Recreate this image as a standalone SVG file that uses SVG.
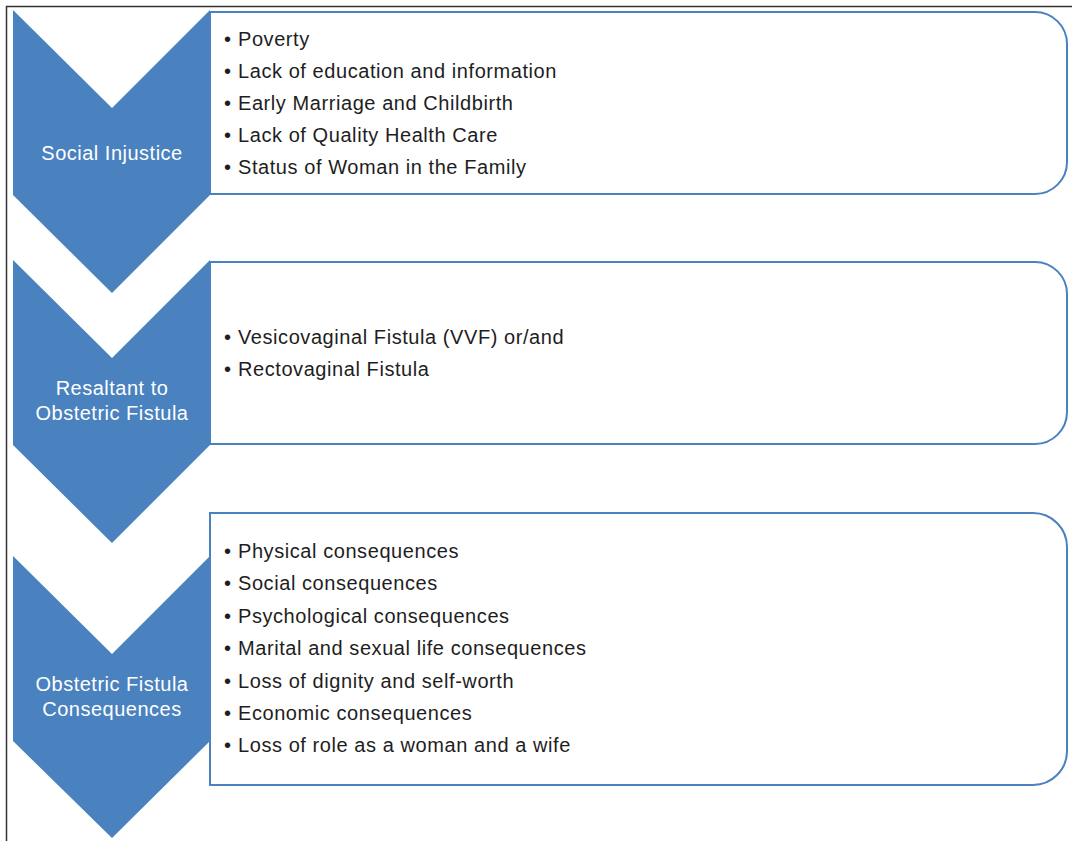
<svg xmlns="http://www.w3.org/2000/svg" width="1072" height="841" viewBox="0 0 1072 841">
<style>
.chev{fill:#4A81BF}
.box{fill:#fff;stroke:#4A81BF;stroke-width:2}
.lbl{font-family:"Liberation Sans",Arial,sans-serif;font-size:20px;fill:#fff;text-anchor:middle;letter-spacing:0.5px}
.item{font-family:"Liberation Sans",Arial,sans-serif;font-size:20px;fill:#1e1e1e;letter-spacing:0.57px}
.frame{fill:none;stroke:#333;stroke-width:1.5}
</style>
<rect width="1072" height="841" fill="#fff"/>
<path class="frame" d="M6.5,841 V6.5 H1072"/>
<g id="stage1">
<path class="chev" d="M13,10 L112,108 L210,10 L210,195 L112,293 L13,195 Z"/>
<path class="box" d="M210,12 H1035 A32,32 0 0 1 1067,44 V162 A32,32 0 0 1 1035,194 H210 Z"/>
<text class="lbl" x="112" y="160">Social Injustice</text>
<g class="item">
<text x="224" y="46"><tspan>•</tspan><tspan x="238">Poverty</tspan></text>
<text x="224" y="78"><tspan>•</tspan><tspan x="238">Lack of education and information</tspan></text>
<text x="224" y="110"><tspan>•</tspan><tspan x="238">Early Marriage and Childbirth</tspan></text>
<text x="224" y="142"><tspan>•</tspan><tspan x="238">Lack of Quality Health Care</tspan></text>
<text x="224" y="174"><tspan>•</tspan><tspan x="238">Status of Woman in the Family</tspan></text>
</g>
</g>
<g id="stage2">
<path class="chev" d="M13,260 L112,358 L210,260 L210,445 L112,543 L13,445 Z"/>
<path class="box" d="M210,262 H1035 A32,32 0 0 1 1067,294 V412 A32,32 0 0 1 1035,444 H210 Z"/>
<text class="lbl" x="112" y="395">Resaltant to</text>
<text class="lbl" x="112" y="420">Obstetric Fistula</text>
<g class="item">
<text x="224" y="344"><tspan>•</tspan><tspan x="238">Vesicovaginal Fistula (VVF) or/and</tspan></text>
<text x="224" y="376"><tspan>•</tspan><tspan x="238">Rectovaginal Fistula</tspan></text>
</g>
</g>
<g id="stage3">
<path class="chev" d="M13,556 L112,654 L210,556 L210,741 L112,838 L13,741 Z"/>
<path class="box" d="M210,513 H1033 A34,34 0 0 1 1067,547 V751 A34,34 0 0 1 1033,785 H210 Z"/>
<text class="lbl" x="112" y="691">Obstetric Fistula</text>
<text class="lbl" x="112" y="716">Consequences</text>
<g class="item">
<text x="224" y="558"><tspan>•</tspan><tspan x="238">Physical consequences</tspan></text>
<text x="224" y="590"><tspan>•</tspan><tspan x="238">Social consequences</tspan></text>
<text x="224" y="623"><tspan>•</tspan><tspan x="238">Psychological consequences</tspan></text>
<text x="224" y="655"><tspan>•</tspan><tspan x="238">Marital and sexual life consequences</tspan></text>
<text x="224" y="688"><tspan>•</tspan><tspan x="238">Loss of dignity and self-worth</tspan></text>
<text x="224" y="720"><tspan>•</tspan><tspan x="238">Economic consequences</tspan></text>
<text x="224" y="752"><tspan>•</tspan><tspan x="238">Loss of role as a woman and a wife</tspan></text>
</g>
</g>
<g id="connectors"></g>
</svg>
